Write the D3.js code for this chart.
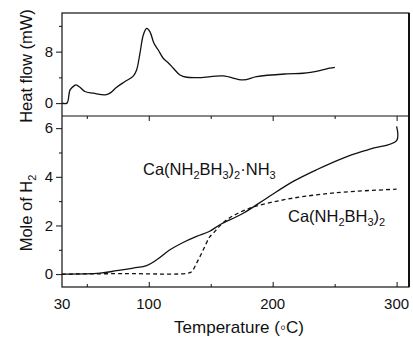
<!DOCTYPE html>
<html><head><meta charset="utf-8">
<script src="https://cdn.jsdelivr.net/npm/d3@7"></script>
<style>body{margin:0;background:#fff}svg{display:block}text{font-family:"Liberation Sans",Arial,sans-serif;fill:#111}</style>
</head><body><svg id="c" width="413" height="342"></svg>
<script>
// Temperature (°C) values
const heatT = [30,34,36.5,39.7,41.3,44.5,48.5,55.3,64.7,68.7,74.1,80.8,87.5,90.2,92.9,95.6,98.3,101,104.2,107.7,111.7,115.7,119.8,125.2,130.6,141.3,160,176.2,187,211.2,224.6,238,246.1,250.2];
const heatFlow = [0,0,2.06,2.68,2.83,2.47,1.8,1.55,1.28,1.55,2.47,3.35,4.2,5.15,7.74,10.57,11.6,11.08,9.29,8.25,6.97,6.28,5.42,4.38,4.02,3.97,4.22,3.6,4.12,4.54,4.64,5.05,5.42,5.57];
const ammT = [30,60.6,74.1,87.5,98.3,106.4,117.1,126.5,138.6,148.8,157.4,176.2,195.1,216.6,235.4,256.9,278.4,300,300];
const ammH2 = [0,0.04,0.14,0.25,0.35,0.59,1.0,1.27,1.55,1.75,2.03,2.5,3.12,3.81,4.29,4.77,5.14,5.49,6.07];
const cabT = [30,80,130.6,134.6,138.6,144,148.8,152,162.8,181.6,208.5,235.4,262.3,300];
const cabH2 = [0,0.02,0.03,0.1,0.45,1.0,1.5,1.68,2.23,2.71,3.05,3.26,3.39,3.49];
const xTicksMajor = [100,200,300];
const xTicksMinor = [50,150,250];
const xTickLabels = ["30","100","200","300"];
const xLabelValues = [30,100,200,300];
const heatTicks = [0,8];
const heatMinor = [4,12];
const molTicks = [0,2,4,6];
const molMinor = [1,3,5];

const svg = d3.select("#c");
const L=62, R=409, T1=13, MID=116, B=287;
const x = d3.scaleLinear().domain([30,310]).range([L,R]);
const yH = d3.scaleLinear().domain([-2,14]).range([MID,T1]);
const yM = d3.scaleLinear().domain([-0.53,6.5]).range([B,MID]);

// frame
const g = svg.append("g");
g.append("rect").attr("x",L).attr("y",T1).attr("width",R-L).attr("height",B-T1).attr("fill","none").attr("stroke","#111").attr("stroke-width",1.2);
g.append("line").attr("x1",R).attr("x2",R).attr("y1",T1).attr("y2",B).attr("stroke","#111").attr("stroke-width",2);
g.append("line").attr("x1",L).attr("x2",R).attr("y1",MID).attr("y2",MID).attr("stroke","#111").attr("stroke-width",1.2);

// x axis ticks (inward) at bottom and at divider
const xb = g.append("g").attr("transform",`translate(0,${B})`)
  .call(d3.axisBottom(x).tickValues(xTicksMajor).tickSizeInner(-5).tickSizeOuter(0).tickFormat(""));
const xbm = g.append("g").attr("transform",`translate(0,${B})`)
  .call(d3.axisBottom(x).tickValues(xTicksMinor).tickSizeInner(-3).tickSizeOuter(0).tickFormat(""));
const xt = g.append("g").attr("transform",`translate(0,${MID})`)
  .call(d3.axisTop(x).tickValues(xTicksMajor).tickSizeInner(-5).tickSizeOuter(0).tickFormat(""));
const xtm = g.append("g").attr("transform",`translate(0,${MID})`)
  .call(d3.axisTop(x).tickValues(xTicksMinor).tickSizeInner(-3).tickSizeOuter(0).tickFormat(""));
[xb,xbm,xt,xtm].forEach(a=>{a.select(".domain").remove();a.selectAll("line").attr("stroke","#111");});
g.selectAll(".xl").data(xLabelValues).enter().append("text")
  .attr("x",d=>x(d)).attr("y",B+22).attr("text-anchor","middle").attr("font-size",15)
  .text((d,i)=>xTickLabels[i]);

// y axes
function yAxis(scale, major, minor){
  const a = g.append("g").attr("transform",`translate(${L},0)`)
    .call(d3.axisLeft(scale).tickValues(major).tickSizeInner(6).tickSizeOuter(0).tickPadding(3).tickFormat(d3.format("d")));
  const b = g.append("g").attr("transform",`translate(${L},0)`)
    .call(d3.axisLeft(scale).tickValues(minor).tickSizeInner(3).tickSizeOuter(0).tickFormat(""));
  [a,b].forEach(s=>{s.select(".domain").remove();s.selectAll("line").attr("stroke","#111");});
  a.selectAll("text").attr("font-size",15).attr("font-family","Liberation Sans, Arial, sans-serif").attr("fill","#111");
}
yAxis(yH, heatTicks, heatMinor);
yAxis(yM, molTicks, molMinor);

// curves
const lineH = d3.line().x((d,i)=>x(heatT[i])).y(d=>yH(d)).curve(d3.curveCatmullRom.alpha(0.5));
g.append("path").attr("d",lineH(heatFlow)).attr("fill","none").attr("stroke","#111").attr("stroke-width",1.3);
const lineA = d3.line().x((d,i)=>x(ammT[i])).y(d=>yM(d)).curve(d3.curveCatmullRom.alpha(0.5));
g.append("path").attr("d",lineA(ammH2)).attr("fill","none").attr("stroke","#111").attr("stroke-width",1.3);
const lineC = d3.line().x((d,i)=>x(cabT[i])).y(d=>yM(d)).curve(d3.curveCatmullRom.alpha(0.5));
g.append("path").attr("d",lineC(cabH2)).attr("fill","none").attr("stroke","#111").attr("stroke-width",1.3).attr("stroke-dasharray","4,3");

// labels
function chem(xp, yp, parts){
  const t = g.append("text").attr("x",xp).attr("y",yp).attr("font-size",16.5);
  let shift=0;
  parts.forEach(p=>{
    const sub = p[1];
    const dy = sub ? 4 - shift : -shift;
    shift = sub ? 4 : 0;
    t.append("tspan").attr("dy",dy).attr("font-size",sub?11:16.5).text(p[0]);
  });
}
chem(143,175,[["Ca(NH",0],["2",1],["BH",0],["3",1],[")",0],["2",1],["·NH",0],["3",1]]);
chem(288,222,[["Ca(NH",0],["2",1],["BH",0],["3",1],[")",0],["2",1]]);

// axis titles
g.append("text").attr("x",239).attr("y",333).attr("text-anchor","middle").attr("font-size",17).text("Temperature (◦C)");
g.append("text").attr("transform",`translate(32,66) rotate(-90)`).attr("text-anchor","middle").attr("font-size",16.5).text("Heat flow (mW)");
const mt = g.append("text").attr("transform",`translate(32,213) rotate(-90)`).attr("text-anchor","middle").attr("font-size",16.5);
mt.append("tspan").text("Mole of H");
mt.append("tspan").attr("dy",4).attr("font-size",11).text("2");
</script></body></html>
